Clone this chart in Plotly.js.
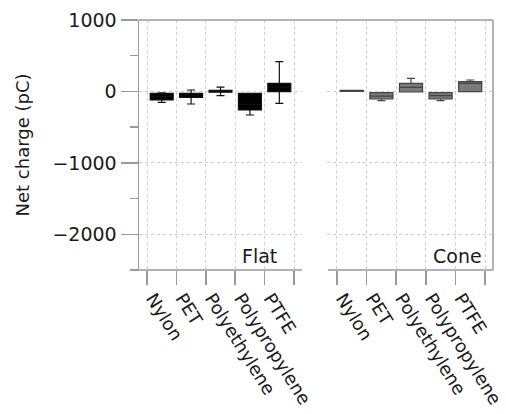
<!DOCTYPE html>
<html>
<head>
<meta charset="utf-8">
<script src="https://cdn.plot.ly/plotly-3.0.1.min.js"></script>
<style>html,body{margin:0;padding:0;background:#fff;}#chart{width:506px;height:414px;}</style>
</head>
<body>
<div id="chart"></div>
<script>
// Categories (materials)
const materials = ["Nylon", "PET", "Polyethylene", "Polypropylene", "PTFE"];

// Flat electrode: box statistics (pC)
const flatLower  = [-152, -176, -60, -330, -167];
const flatQ1     = [-120,  -82, -10, -260,   -4];
const flatMedian = [ -70,  -50,   5, -180,   60];
const flatQ3     = [ -26,  -26,  15,  -26,  113];
const flatUpper  = [ -20,   20,  60,  -26,  416];

// Cone electrode: box statistics (pC)
const coneLower  = [  0, -130,  -8, -130,  -4];
const coneQ1     = [  0, -106,  -8, -106,  -4];
const coneMedian = [  8,  -65,  57,  -60, 113];
const coneQ3     = [ 15,  -18, 113,  -18, 137];
const coneUpper  = [ 15,  -18, 183,  -18, 160];

const panelLabels = ["Flat", "Cone"];
const tickLabels = materials.concat([""]);

const pos = materials.map((m, i) => i + 0.5);
const tickPos = tickLabels.map((t, i) => i);

const FONT = "DejaVu Sans, Verdana, sans-serif";
const AX = "#9a9a9a";
const TXT = "#1a1a1a";

function boxTrace(xa, lo, q1, med, q3, up, fill, line) {
  return {
    type: "box", xaxis: xa, yaxis: "y",
    x: pos, lowerfence: lo, q1: q1, median: med, q3: q3, upperfence: up,
    width: 0.78, whiskerwidth: 0.35,
    fillcolor: fill, line: {color: line, width: 1.2},
    boxpoints: false, hoverinfo: "skip", showlegend: false
  };
}

const traces = [
  boxTrace("x", flatLower, flatQ1, flatMedian, flatQ3, flatUpper, "#000000", "#111111"),
  boxTrace("x2", coneLower, coneQ1, coneMedian, coneQ3, coneUpper, "#7a7a7a", "#444444")
];

function xaxisDef(domain, range) {
  return {
    domain: domain, range: range, anchor: "y",
    tickmode: "array", tickvals: tickPos, ticktext: tickLabels,
    tickangle: 58, ticks: "outside", ticklen: 14, tickwidth: 1.5, tickcolor: AX,
    ticklabelshift: 6, ticklabelstandoff: -4,
    tickfont: {family: FONT, size: 18, color: TXT},
    showgrid: true, gridcolor: "#cfcfcf", griddash: "dot", gridwidth: 1,
    showline: false, zeroline: false
  };
}

const layout = {
  width: 506, height: 414,
  margin: {l: 139, r: 13, t: 20, b: 144},
  paper_bgcolor: "#ffffff", plot_bgcolor: "#ffffff",
  font: {family: FONT, size: 19, color: TXT},
  showlegend: false,
  xaxis: xaxisDef([0, 0.4605], [-0.272, 5.272]),
  xaxis2: xaxisDef([0.531, 1], [-0.338, 5.27]),
  yaxis: {
    range: [-2500, 1000], tick0: 0, dtick: 1000,
    ticks: "outside", ticklen: 17, tickwidth: 1.5, tickcolor: AX,
    minor: {dtick: 500, tick0: 0, ticks: "outside", ticklen: 8, tickwidth: 1.5, tickcolor: AX, showgrid: false},
    showline: true, linecolor: AX, linewidth: 1.5,
    showgrid: true, gridcolor: "#cfcfcf", griddash: "dot", gridwidth: 1,
    zeroline: false,
    tickfont: {family: FONT, size: 19, color: TXT},
    title: {text: "Net charge (pC)", font: {family: FONT, size: 18, color: TXT}, standoff: 18}
  },
  shapes: [
    {type: "line", xref: "paper", yref: "paper", x0: 0, x1: 1, y0: 1, y1: 1, line: {color: AX, width: 1.5}},
    {type: "line", xref: "paper", yref: "paper", x0: 1, x1: 1, y0: 0, y1: 1, line: {color: AX, width: 1.5}},
    {type: "line", xref: "paper", yref: "paper", x0: -0.02, x1: 0.4605, y0: 0, y1: 0, line: {color: AX, width: 1.5}},
    {type: "line", xref: "paper", yref: "paper", x0: 0.534, x1: 1, y0: 0, y1: 0, line: {color: AX, width: 1.5}}
  ],
  annotations: [
    {xref: "paper", yref: "paper", x: 0.395, y: 0.056, xanchor: "right", yanchor: "middle",
     text: panelLabels[0], showarrow: false, font: {family: FONT, size: 19, color: TXT}},
    {xref: "paper", yref: "paper", x: 0.975, y: 0.056, xanchor: "right", yanchor: "middle",
     text: panelLabels[1], showarrow: false, font: {family: FONT, size: 19, color: TXT}}
  ]
};

Plotly.newPlot("chart", traces, layout, {displayModeBar: false, staticPlot: true});
</script>
</body>
</html>
